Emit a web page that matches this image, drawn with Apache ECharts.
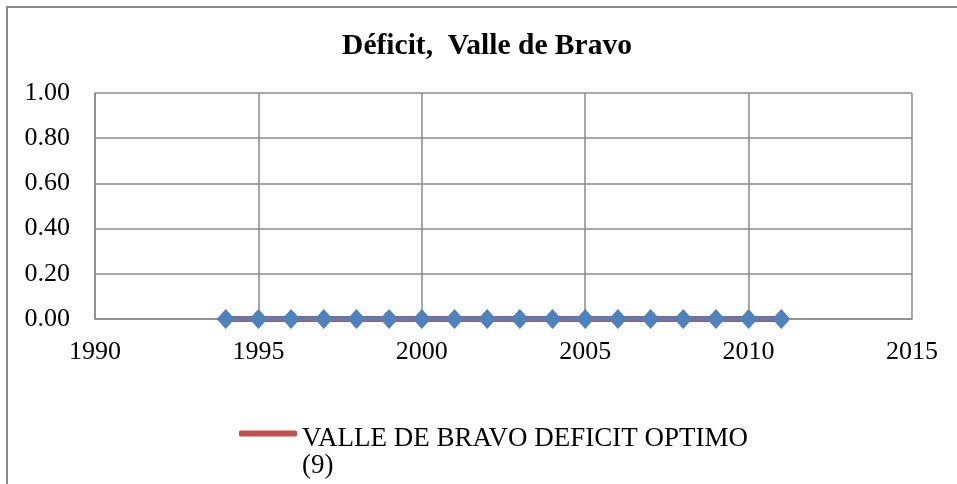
<!DOCTYPE html>
<html>
<head>
<meta charset="utf-8">
<script src="https://cdn.jsdelivr.net/npm/echarts@6/dist/echarts.min.js"></script>
<style>
    html, body { margin: 0; padding: 0; background: #fff; }
    #frame { position: absolute; left: 6px; top: 6px; width: 951px; height: 478px;
             border-left: 2px solid #8a8a8a; border-top: 2px solid #8a8a8a; box-sizing: border-box; }
    #chart { position: absolute; left: 0; top: 0; width: 957px; height: 484px; }
</style>
</head>
<body>
<div id="frame"></div>
<div id="chart"></div>
<script>
// Data
const years = [1994, 1995, 1996, 1997, 1998, 1999, 2000, 2001, 2002,
               2003, 2004, 2005, 2006, 2007, 2008, 2009, 2010, 2011];
const deficitOptimo = [0, 0, 0, 0, 0, 0, 0, 0, 0, 0, 0, 0, 0, 0, 0, 0, 0, 0];
const deficitReal = [0, 0, 0, 0, 0, 0, 0, 0, 0, 0, 0, 0, 0, 0, 0, 0, 0, 0];
const legendName = 'VALLE DE BRAVO DEFICIT OPTIMO (9)';
const legendLines = ['VALLE DE BRAVO DEFICIT OPTIMO', '(9)'];
const titleText = 'Déficit,  Valle de Bravo';

const serif = '"Liberation Serif", "DejaVu Serif", serif';
const gridColor = '#8a8a8a';

const chart = echarts.init(document.getElementById('chart'));

const option = {
    animation: false,
    title: {
        text: titleText,
        left: 482,
        top: 26,
        textAlign: 'center',
        textStyle: { fontFamily: serif, fontSize: 29.5, fontWeight: 'bold', color: '#000' }
    },
    grid: { left: 95, right: 45, top: 93, bottom: 165 },
    xAxis: {
        type: 'value',
        min: 1990,
        max: 2015,
        interval: 5,
        axisLine: { show: true, lineStyle: { color: gridColor, width: 1.5 } },
        axisTick: { show: false },
        splitLine: { show: true, lineStyle: { color: gridColor, width: 1.5 } },
        axisLabel: {
            fontFamily: serif, fontSize: 26, color: '#000', margin: 20,
            formatter: v => String(v)
        }
    },
    yAxis: {
        type: 'value',
        min: 0,
        max: 1,
        interval: 0.2,
        axisLine: { show: true, lineStyle: { color: gridColor, width: 1.5 } },
        axisTick: { show: false },
        splitLine: { show: true, lineStyle: { color: gridColor, width: 1.5 } },
        axisLabel: {
            fontFamily: serif, fontSize: 26, color: '#000', margin: 25,
            formatter: v => v.toFixed(2)
        }
    },
    legend: {
        data: [legendName],
        left: 239,
        top: 406,
        padding: 0,
        icon: 'roundRect',
        itemWidth: 58,
        itemHeight: 6,
        itemGap: 4,
        // empty first line keeps the icon level with the first text line
        formatter: () => '{g| }\n' + legendLines.map(s => '{t|' + s + '}').join('\n'),
        textStyle: {
            color: '#000',
            rich: {
                g: { fontSize: 1, lineHeight: 37 },
                t: { fontFamily: serif, fontSize: 27, lineHeight: 27, color: '#000' }
            }
        }
    },
    series: [
        {
            name: legendName,
            type: 'line',
            data: years.map((y, i) => [y, deficitOptimo[i]]),
            symbol: 'none',
            lineStyle: { color: '#c0504d', width: 6 },
            itemStyle: { color: '#c0504d' },
            z: 2
        },
        {
            name: 'real',
            type: 'line',
            data: years.map((y, i) => [y, deficitReal[i]]),
            symbol: 'diamond',
            symbolSize: [18, 20],
            lineStyle: { color: '#4f81bd', width: 4 },
            itemStyle: { color: '#4f81bd' },
            z: 3
        }
    ]
};

chart.setOption(option);
</script>
</body>
</html>
